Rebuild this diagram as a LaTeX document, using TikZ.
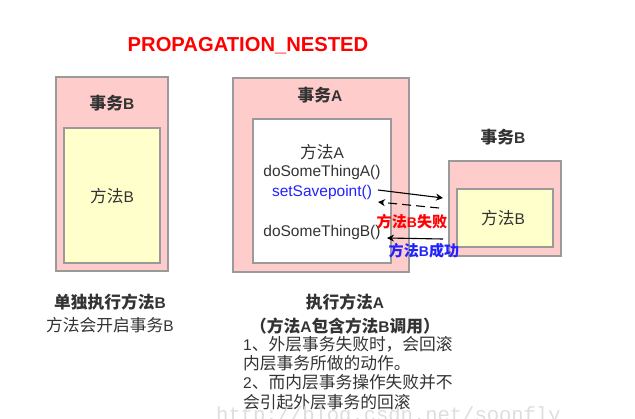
\documentclass[tikz,border=0pt]{standalone}
\usepackage{fontspec}
\setmainfont{Liberation Sans}
\newfontfamily\cjk[Scale=1.08]{Noto Sans CJK SC}
\newfontfamily\wmfont{Liberation Mono}
\newcommand{\zh}[1]{{\cjk #1}}
\usetikzlibrary{arrows.meta}
\definecolor{pinkf}{HTML}{FFCCCC}
\definecolor{yelf}{HTML}{FFFFCC}
\definecolor{brd}{HTML}{9A9A9A}
\definecolor{txt}{HTML}{333333}
\definecolor{myred}{HTML}{FF0000}
\definecolor{myblue}{HTML}{2222FF}
\begin{document}
\begin{tikzpicture}[x=1pt,y=-1pt,
  pinkbox/.style={draw=brd, line width=1.2pt, fill=pinkf, inner sep=0pt},
  yelbox/.style={draw=brd, line width=1.2pt, fill=yelf, inner sep=0pt},
  whitebox/.style={draw=brd, line width=1.2pt, fill=white, inner sep=0pt},
  lbl/.style={text=txt, font=\fontsize{15.5}{19}\selectfont, inner sep=0pt},
  blbl/.style={text=txt, font=\fontsize{15.5}{19}\selectfont\bfseries, inner sep=0pt},
  conn/.style={line width=1.1pt, -{Stealth[length=7pt,width=7pt]}},
]
\useasboundingbox[fill=white] (0,0) rectangle (635,418);

% title
\node[text=myred, font=\fontsize{20.2}{23}\selectfont\bfseries, inner sep=0pt] (title) at (248,46) {PROPAGATION\_NESTED};

% left: transaction B alone
\node[pinkbox, minimum width=112pt, minimum height=194pt] (lout) at (112,174) {};
\node[yelbox, minimum width=96pt, minimum height=135pt] (lin) at (112,195.5) {};
\node[blbl] (ltx) at (112,103) {\zh{事务}B};
\node[lbl] (lmb) at (112,196) {\zh{方法}B};

% middle: transaction A
\node[pinkbox, minimum width=176pt, minimum height=194pt] (mout) at (321,175) {};
\node[whitebox, minimum width=138pt, minimum height=144pt] (min) at (322,191) {};
\node[blbl] (mtx) at (320,95) {\zh{事务}A};
\node[lbl] (ma) at (322,152) {\zh{方法}A};
\node[lbl] (mda) at (322,172) {doSomeThingA()};
\node[lbl, text=myblue] (sp) at (322,192) {setSavepoint()};
\node[lbl] (mdb) at (322,232) {doSomeThingB()};

% right: transaction B nested
\node[blbl] (rtx) at (503,137) {\zh{事务}B};
\node[pinkbox, minimum width=112pt, minimum height=95pt] (rout) at (505,208.5) {};
\node[yelbox, minimum width=96pt, minimum height=58pt] (rin) at (505,218) {};
\node[lbl] (rmb) at (503,218) {\zh{方法}B};

% connectors
\coordinate (c1s) at (378,190);
\coordinate (c1e) at (443,198);
\coordinate (c2s) at (439,208);
\coordinate (c2e) at (378,202);
\coordinate (c3s) at (443,239);
\coordinate (c3e) at (387,238);
\draw[conn] (c1s) -- (c1e);
\draw[conn, dash pattern=on 9pt off 5pt] (c2s) -- (c2e);
\draw[conn] (c3s) -- (c3e);
\node[lbl, text=myred, font=\fontsize{14}{17}\selectfont\bfseries] (fail) at (412,222) {\zh{方法}B\zh{失败}};
\node[lbl, text=myblue, font=\fontsize{14}{17}\selectfont\bfseries] (ok) at (424,251) {\zh{方法}B\zh{成功}};

% captions
\node[blbl] (cap1) at (110,302) {\zh{单独执行方法}B};
\node[lbl] (cap2) at (110,325) {\zh{方法会开启事务}B};
\node[blbl] (cap3) at (345,302) {\zh{执行方法}A};
\node[blbl] (cap4) at (345,326) {\zh{（方法}A\zh{包含方法}B\zh{调用）}};
\node[lbl, anchor=base west] (n1) at (243,350) {1\zh{、外层事务失败时，会回滚}};
\node[lbl, anchor=base west] (n2) at (243,369.3) {\zh{内层事务所做的动作。}};
\node[lbl, anchor=base west] (n3) at (243,388.6) {2\zh{、而内层事务操作失败并不}};
\node[lbl, anchor=base west] (n4) at (243,408) {\zh{会引起外层事务的回滚}};

% watermark
\node[text=black!13, font=\fontsize{20.5}{22}\wmfont, anchor=base west, inner sep=0pt] (wm) at (216,421) {http://blog.csdn.net/soonfly};
\end{tikzpicture}
\end{document}
